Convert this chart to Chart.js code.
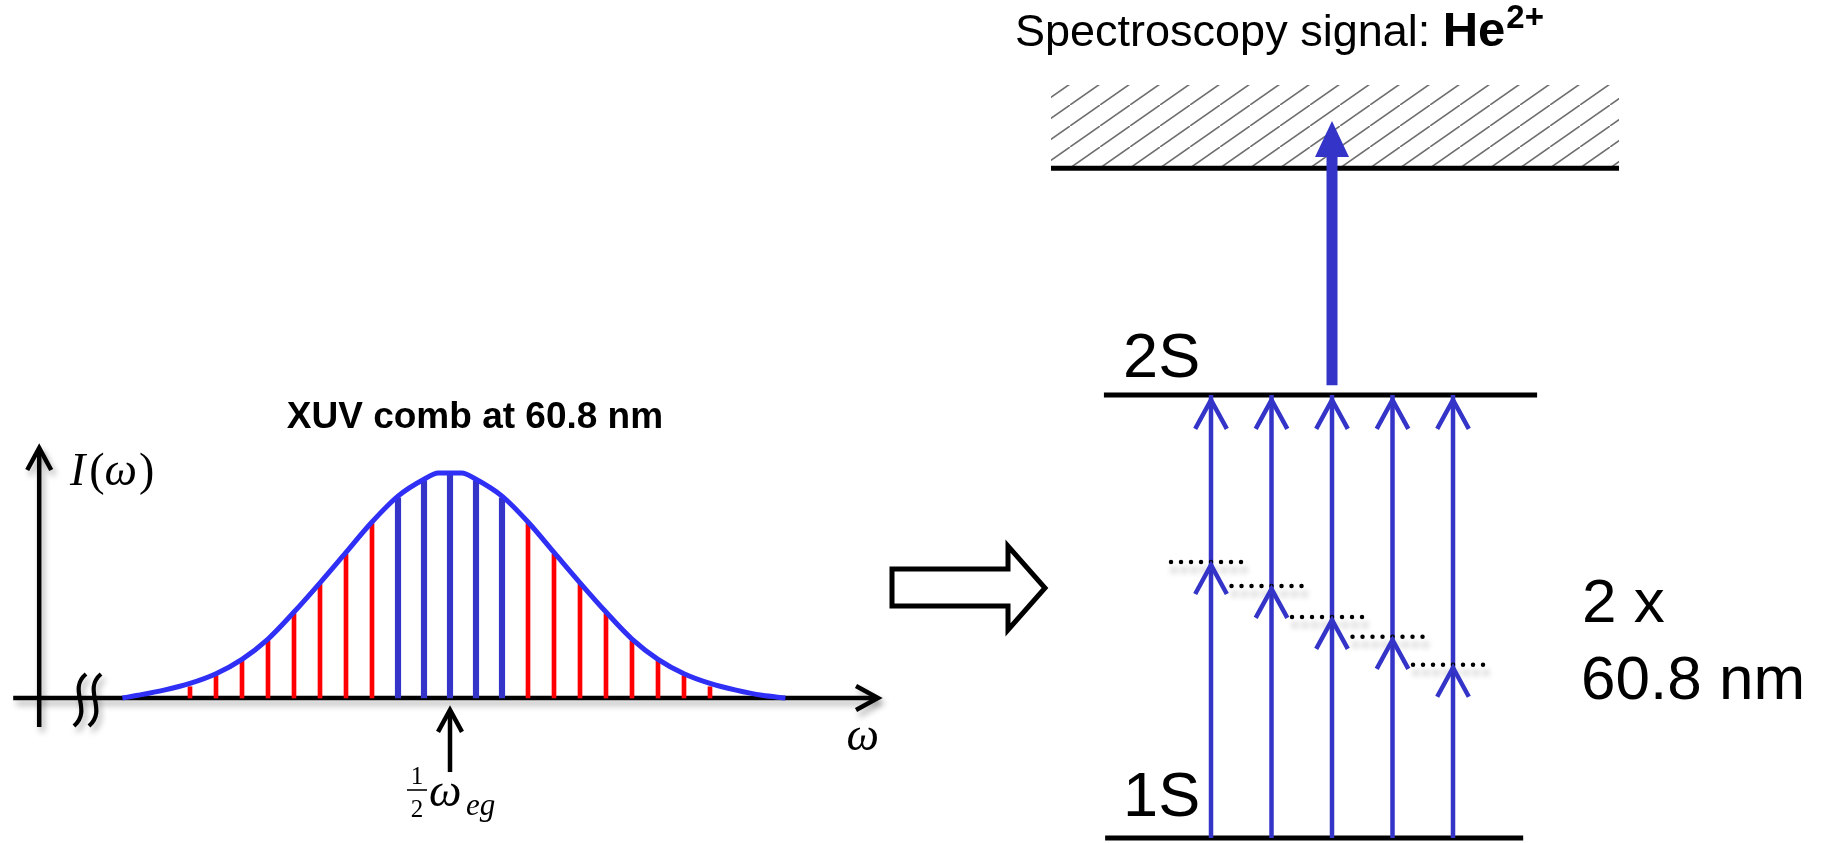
<!DOCTYPE html>
<html>
<head>
<meta charset="utf-8">
<script src="https://cdn.jsdelivr.net/npm/chart.js@4.4.1/dist/chart.umd.min.js"></script>
<style>
  html, body { margin: 0; padding: 0; background: #fff; }
  body { width: 1822px; height: 843px; position: relative; overflow: hidden; }
  .box { position: absolute; top: 0; height: 843px; }
  #left { left: 0; width: 900px; }
  #right { left: 860px; width: 962px; }
</style>
</head>
<body>
<div class="box" id="left"><canvas id="combChart"></canvas></div>
<div class="box" id="right"><canvas id="levelChart"></canvas></div>
<script>
// comb teeth: mode number counted from 1/2 w_eg, and relative intensity
const toothModes = [-10, -9, -8, -7, -6, -5, -4, -3, -2, -1, 0, 1, 2, 3, 4, 5, 6, 7, 8, 9, 10];
const toothHeights = [0.05, 0.10, 0.165, 0.255, 0.375, 0.505, 0.64, 0.775, 0.89, 0.965, 1.0,
  0.965, 0.89, 0.775, 0.64, 0.505, 0.375, 0.255, 0.165, 0.10, 0.05];
const resonantModes = [-2, -1, 0, 1, 2];

// spectral envelope
const envelopeModes = [-12.6, -12, -11, -10, -9, -8, -7, -6, -5, -4, -3, -2, -1, -0.45,
  0.45, 1, 2, 3, 4, 5, 6, 7, 8, 9, 10, 11, 12, 12.9];
const envelopeValues = [0, 0.012, 0.035, 0.065, 0.108, 0.172, 0.262, 0.382, 0.512, 0.647, 0.782, 0.897, 0.972, 1.0,
  1.0, 0.972, 0.897, 0.782, 0.647, 0.512, 0.382, 0.262, 0.172, 0.108, 0.065, 0.035, 0.012, 0];

// level scheme (energy in units of the 1S-2S gap)
const levelLabels = ["1S", "2S"];
const levelEnergies = [0, 1];
const continuumEnergy = 1.512;
const photonSlots = [1, 2, 3, 4, 5];
const virtualLevels = [0.623, 0.569, 0.499, 0.454, 0.391];

// layout (scale units)
const AXIS = { kStart: -16.8, kEnd: 16.46, kY: -15.8, iBottom: -0.129, iTop: 1.111 };
const LEVEL_SPAN = { "1S": [-0.75, 6.16], "2S": [-0.77, 6.39] };
const CONT_SPAN = [-1.645, 7.744];
const HATCH_TOP = 1.70;

const BLUE = "#3434c8";

function openHead(ctx, tx, ty, dx, dy, len, half) {
  const a = Math.atan2(dy, dx);
  ctx.beginPath();
  ctx.moveTo(tx - len * Math.cos(a - half), ty - len * Math.sin(a - half));
  ctx.lineTo(tx, ty);
  ctx.lineTo(tx - len * Math.cos(a + half), ty - len * Math.sin(a + half));
  ctx.stroke();
}

const combDecor = {
  id: "combDecor",
  beforeDatasetsDraw(chart) {
    const { ctx, scales: { x, y } } = chart;
    ctx.save();
    ctx.shadowColor = "rgba(0,0,0,0.3)";
    ctx.shadowBlur = 6;
    ctx.shadowOffsetX = 3;
    ctx.shadowOffsetY = 5;
    ctx.strokeStyle = "#000";
    ctx.lineWidth = 4.5;
    const y0 = y.getPixelForValue(0);
    const xs = x.getPixelForValue(AXIS.kStart), xe = x.getPixelForValue(AXIS.kEnd);
    ctx.beginPath(); ctx.moveTo(xs, y0); ctx.lineTo(xe - 2, y0); ctx.stroke();
    openHead(ctx, xe, y0, 1, 0, 25, 0.5);
    const xa = x.getPixelForValue(AXIS.kY);
    const yb = y.getPixelForValue(AXIS.iBottom), yt = y.getPixelForValue(AXIS.iTop);
    ctx.beginPath(); ctx.moveTo(xa, yb); ctx.lineTo(xa, yt + 2); ctx.stroke();
    openHead(ctx, xa, yt, 0, -1, 25, 0.5);
    // axis break
    ctx.lineWidth = 4.2;
    const bx = x.getPixelForValue(-14.0);
    [bx - 6, bx + 9].forEach(cx => {
      ctx.beginPath();
      ctx.moveTo(cx + 6, y0 - 24);
      ctx.bezierCurveTo(cx - 13, y0 - 8, cx + 13, y0 + 11, cx - 6, y0 + 28);
      ctx.stroke();
    });
    ctx.restore();
  },
  afterDatasetsDraw(chart) {
    const { ctx, scales: { x, y } } = chart;
    ctx.save();
    ctx.fillStyle = "#000";
    ctx.strokeStyle = "#000";
    // title
    ctx.font = "bold 37px 'Liberation Sans', Arial, sans-serif";
    ctx.textAlign = "center";
    ctx.textBaseline = "alphabetic";
    ctx.fillText("XUV comb at 60.8 nm", x.getPixelForValue(0.96), y.getPixelForValue(1.2));
    // axis labels
    ctx.textAlign = "left";
    let px = x.getPixelForValue(-14.62), py = y.getPixelForValue(0.947);
    ctx.font = "italic 46px 'Liberation Serif', serif";
    ctx.fillText("I", px, py);
    px += ctx.measureText("I").width + 4;
    ctx.font = "46px 'Liberation Serif', serif";
    ctx.fillText("(", px, py);
    px += ctx.measureText("(").width;
    ctx.font = "italic 46px 'Liberation Serif', serif";
    ctx.fillText("\u03c9", px, py);
    px += ctx.measureText("\u03c9").width + 2;
    ctx.font = "46px 'Liberation Serif', serif";
    ctx.fillText(")", px, py);
    ctx.font = "italic 46px 'Liberation Serif', serif";
    ctx.fillText("\u03c9", x.getPixelForValue(15.25), y.getPixelForValue(-0.231));
    // marker at 1/2 w_eg
    const cx = x.getPixelForValue(0);
    ctx.lineWidth = 4.5;
    const tip = y.getPixelForValue(-0.053);
    ctx.beginPath(); ctx.moveTo(cx, y.getPixelForValue(-0.329)); ctx.lineTo(cx, tip + 2); ctx.stroke();
    openHead(ctx, cx, tip, 0, -1, 25, 0.5);
    ctx.font = "25px 'Liberation Serif', serif";
    ctx.textAlign = "center";
    ctx.fillText("1", cx - 33, 784);
    ctx.fillText("2", cx - 33, 817);
    ctx.lineWidth = 1.6;
    ctx.beginPath(); ctx.moveTo(cx - 43, 790); ctx.lineTo(cx - 23, 790); ctx.stroke();
    ctx.textAlign = "left";
    ctx.font = "italic 46px 'Liberation Serif', serif";
    ctx.fillText("\u03c9", cx - 21, 806);
    ctx.font = "italic 31px 'Liberation Serif', serif";
    ctx.fillText("eg", cx + 16, 815);
    ctx.restore();
  },
};

const toothData = toothModes.map((k, i) => ({ x: k, y: toothHeights[i] }));

new Chart(document.getElementById("combChart"), {
  type: "bar",
  data: {
    datasets: [
      {
        type: "line",
        label: "envelope",
        data: envelopeModes.map((k, i) => ({ x: k, y: envelopeValues[i] })),
        borderColor: "#2f2ff5",
        borderWidth: 5,
        pointRadius: 0,
        cubicInterpolationMode: "monotone",
        order: 0,
      },
      {
        label: "resonant teeth",
        data: toothData.filter(p => resonantModes.includes(p.x)),
        backgroundColor: BLUE,
        barThickness: 5.5,
        grouped: false,
        order: 1,
      },
      {
        label: "teeth",
        data: toothData.filter(p => !resonantModes.includes(p.x)),
        backgroundColor: "#ff0000",
        barThickness: 4,
        grouped: false,
        order: 2,
      },
    ],
  },
  options: {
    responsive: true,
    maintainAspectRatio: false,
    animation: false,
    layout: { padding: 0 },
    plugins: { legend: { display: false }, tooltip: { enabled: false } },
    scales: {
      x: { type: "linear", min: -17.3077, max: 17.3077, offset: false, display: false },
      y: { min: -0.6444, max: 3.1022, display: false },
    },
  },
  plugins: [combDecor],
});

// ---- level diagram ----
const hatchTile = document.createElement("canvas");
hatchTile.width = 30;
hatchTile.height = 21;
const tctx = hatchTile.getContext("2d");
tctx.strokeStyle = "#6e6e6e";
tctx.lineWidth = 1.6;
tctx.beginPath(); tctx.moveTo(-3, 23.1); tctx.lineTo(33, -2.1); tctx.stroke();
const hatch = tctx.createPattern(hatchTile, "repeat");

const flat = (span, e) => [{ x: span[0], y: e }, { x: span[1], y: e }];

const levelSets = levelLabels.map((name, i) => ({
  label: name,
  data: flat(LEVEL_SPAN[name], levelEnergies[i]),
  borderColor: "#000",
  borderWidth: 5,
  pointRadius: 0,
  order: 7,
}));
const photonSets = photonSlots.map(s => ({
  label: "photon " + s,
  data: [{ x: s, y: levelEnergies[0] }, { x: s, y: levelEnergies[1] }],
  borderColor: BLUE,
  borderWidth: 4.5,
  pointRadius: 0,
  order: 5,
}));
const virtualSets = photonSlots.map((s, i) => ({
  label: "virtual " + s,
  data: [{ x: s - 0.661, y: virtualLevels[i] }, { x: s + 0.661, y: virtualLevels[i] }],
  borderColor: "#000",
  borderWidth: 4.5,
  borderDash: [0, 10],
  borderCapStyle: "round",
  pointRadius: 0,
  shadow: true,
  order: 4,
}));

const levelDecor = {
  id: "levelDecor",
  beforeDatasetDraw(chart, args) {
    if (chart.data.datasets[args.index].shadow) {
      const ctx = chart.ctx;
      ctx.save();
      ctx.shadowColor = "rgba(0,0,0,0.4)";
      ctx.shadowBlur = 6;
      ctx.shadowOffsetX = 3;
      ctx.shadowOffsetY = 8;
    }
  },
  afterDatasetDraw(chart, args) {
    if (chart.data.datasets[args.index].shadow) chart.ctx.restore();
  },
  afterDatasetsDraw(chart) {
    const { ctx, scales: { x, y } } = chart;
    ctx.save();
    // photon arrow heads
    ctx.strokeStyle = BLUE;
    ctx.lineWidth = 4.5;
    ctx.lineJoin = "miter";
    photonSlots.forEach((s, i) => {
      const px = x.getPixelForValue(s);
      openHead(ctx, px, y.getPixelForValue(levelEnergies[1]) + 5, 0, -1, 33, 0.5);
      openHead(ctx, px, y.getPixelForValue(virtualLevels[i]) + 3, 0, -1, 33, 0.5);
    });
    // ionisation arrow head
    ctx.fillStyle = BLUE;
    const bx = x.getPixelForValue(photonSlots[2]);
    const base = y.getPixelForValue(1.537), apex = y.getPixelForValue(1.6185);
    ctx.beginPath();
    ctx.moveTo(bx - 17, base); ctx.lineTo(bx, apex); ctx.lineTo(bx + 17, base); ctx.closePath();
    ctx.fill();
    // hollow arrow between the panels
    ctx.strokeStyle = "#000";
    ctx.fillStyle = "#fff";
    ctx.lineWidth = 5;
    ctx.beginPath();
    ctx.moveTo(32, 569); ctx.lineTo(148, 569); ctx.lineTo(148, 546); ctx.lineTo(185, 588);
    ctx.lineTo(148, 630); ctx.lineTo(148, 606); ctx.lineTo(32, 606); ctx.closePath();
    ctx.fill(); ctx.stroke();
    // labels
    ctx.fillStyle = "#000";
    ctx.textBaseline = "alphabetic";
    ctx.textAlign = "left";
    let tx = 155;
    ctx.font = "45px 'Liberation Sans', Arial, sans-serif";
    ctx.fillText("Spectroscopy signal: ", tx, 46);
    tx += ctx.measureText("Spectroscopy signal: ").width;
    ctx.font = "bold 49px 'Liberation Sans', Arial, sans-serif";
    ctx.fillText("He", tx, 46);
    tx += ctx.measureText("He").width + 1;
    ctx.font = "bold 33px 'Liberation Sans', Arial, sans-serif";
    ctx.fillText("2+", tx, 28);
    ctx.font = "63px 'Liberation Sans', Arial, sans-serif";
    ctx.fillText(levelLabels[1], x.getPixelForValue(-0.42) - 2, y.getPixelForValue(levelEnergies[1]) - 18);
    ctx.fillText(levelLabels[0], x.getPixelForValue(-0.42) - 2, y.getPixelForValue(levelEnergies[0]) - 22);
    ctx.font = "62px 'Liberation Sans', Arial, sans-serif";
    ctx.fillText("2 x", 722, 622);
    ctx.fillText("60.8 nm", 721, 699);
    ctx.restore();
  },
};

new Chart(document.getElementById("levelChart"), {
  type: "line",
  data: {
    datasets: [
      {
        label: "continuum",
        data: flat(CONT_SPAN, HATCH_TOP),
        fill: { value: continuumEnergy },
        backgroundColor: hatch,
        borderColor: "rgba(0,0,0,0)",
        pointRadius: 0,
        order: 9,
      },
      {
        label: "ionisation threshold",
        data: flat(CONT_SPAN, continuumEnergy),
        borderColor: "#000",
        borderWidth: 5,
        pointRadius: 0,
        order: 8,
      },
      ...levelSets,
      ...photonSets,
      ...virtualSets,
      {
        label: "ionisation",
        data: [{ x: photonSlots[2], y: 1.022 }, { x: photonSlots[2], y: 1.54 }],
        borderColor: BLUE,
        borderWidth: 11,
        pointRadius: 0,
        order: 3,
      },
    ],
  },
  options: {
    responsive: true,
    maintainAspectRatio: false,
    animation: false,
    layout: { padding: 0 },
    plugins: { legend: { display: false }, tooltip: { enabled: false } },
    scales: {
      x: { type: "linear", min: -4.8017, max: 11.099, display: false },
      y: { min: -0.0113, max: 1.8916, display: false },
    },
  },
  plugins: [levelDecor],
});
</script>
</body>
</html>
